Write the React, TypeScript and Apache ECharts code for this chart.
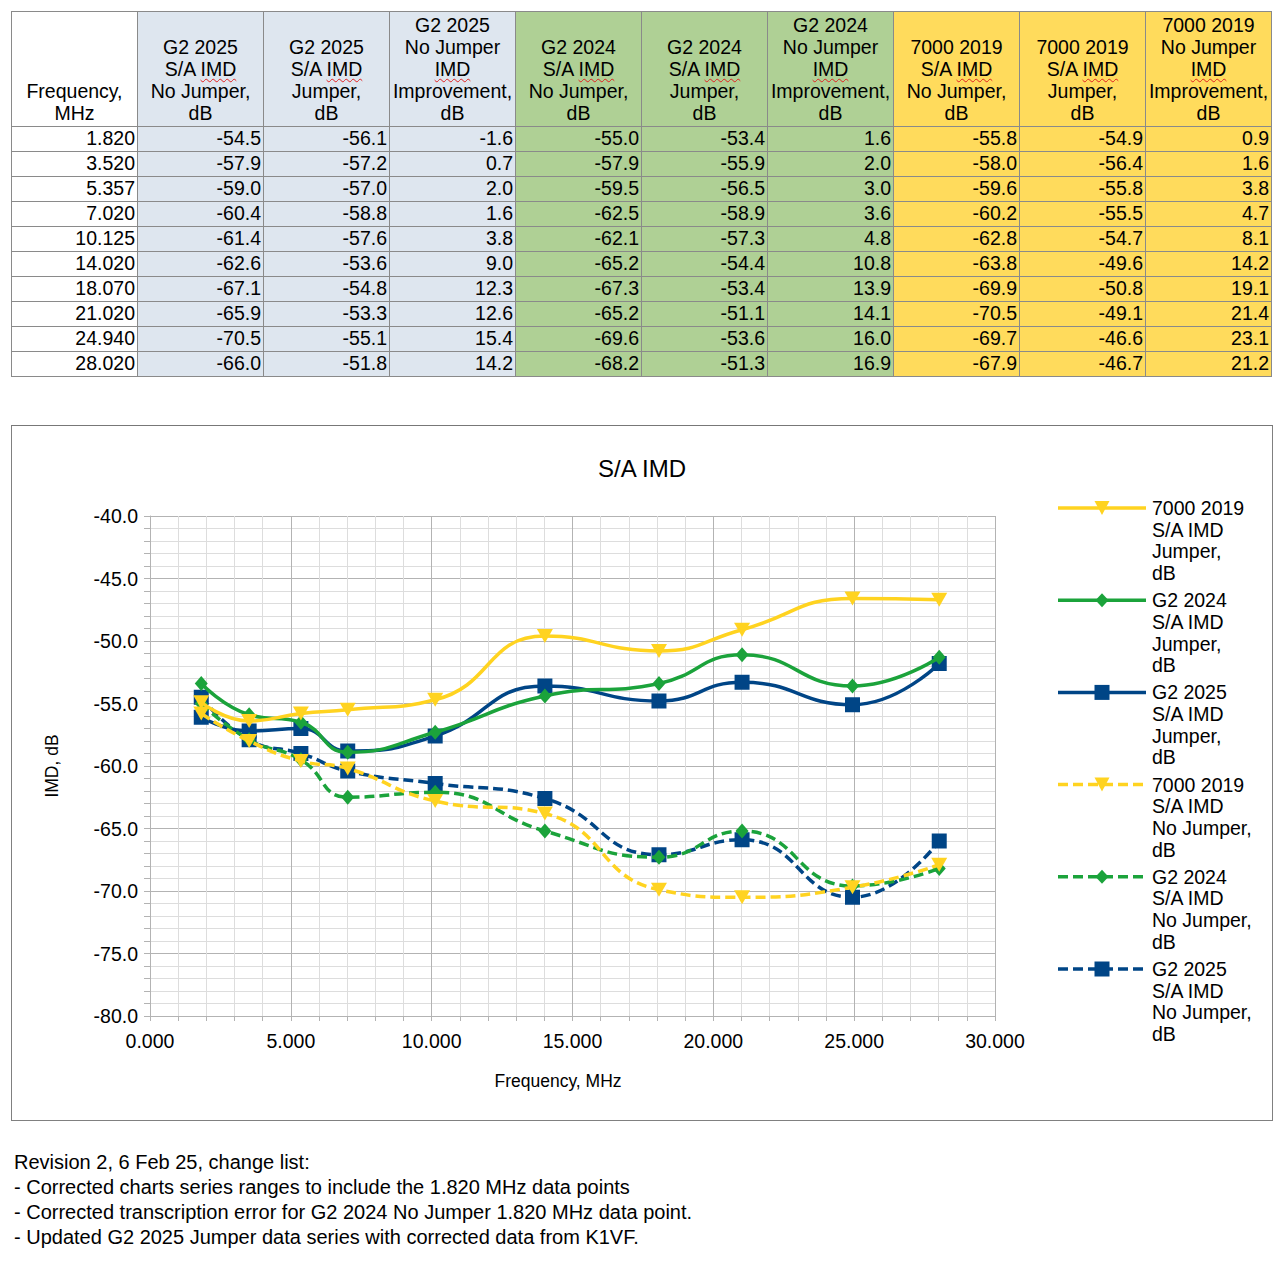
import React, { useEffect, useRef } from "react";
import * as echarts from "echarts";

// ---------- data ----------
const freq = [1.82, 3.52, 5.357, 7.02, 10.125, 14.02, 18.07, 21.02, 24.94, 28.02];

const g2025NoJumper = [-54.5, -57.9, -59.0, -60.4, -61.4, -62.6, -67.1, -65.9, -70.5, -66.0];
const g2025Jumper = [-56.1, -57.2, -57.0, -58.8, -57.6, -53.6, -54.8, -53.3, -55.1, -51.8];
const g2025Improvement = [-1.6, 0.7, 2.0, 1.6, 3.8, 9.0, 12.3, 12.6, 15.4, 14.2];

const g2024NoJumper = [-55.0, -57.9, -59.5, -62.5, -62.1, -65.2, -67.3, -65.2, -69.6, -68.2];
const g2024Jumper = [-53.4, -55.9, -56.5, -58.9, -57.3, -54.4, -53.4, -51.1, -53.6, -51.3];
const g2024Improvement = [1.6, 2.0, 3.0, 3.6, 4.8, 10.8, 13.9, 14.1, 16.0, 16.9];

const k7000NoJumper = [-55.8, -58.0, -59.6, -60.2, -62.8, -63.8, -69.9, -70.5, -69.7, -67.9];
const k7000Jumper = [-54.9, -56.4, -55.8, -55.5, -54.7, -49.6, -50.8, -49.1, -46.6, -46.7];
const k7000Improvement = [0.9, 1.6, 3.8, 4.7, 8.1, 14.2, 19.1, 21.4, 23.1, 21.2];

const changeNotes = [
  "Revision 2, 6 Feb 25, change list:",
  "- Corrected charts series ranges to include the 1.820 MHz data points",
  "- Corrected transcription error for G2 2024 No Jumper 1.820 MHz data point.",
  "- Updated G2 2025 Jumper data series with corrected data from K1VF.",
];

// ---------- styles ----------
const FONT = "'Liberation Sans', Arial, Helvetica, sans-serif";
const C_BLUE = "#004586";
const C_GREEN = "#1ba33b";
const C_YELLOW = "#ffd320";
const BG_BLUE = "#dee6ef";
const BG_GREEN = "#afd095";
const BG_YELLOW = "#ffdb5c";

type Col = { header: string[]; values: number[] | null; bg: string };

const columns: Col[] = [
  { header: ["Frequency,", "MHz"], values: null, bg: "#ffffff" },
  { header: ["G2 2025", "S/A |IMD|", "No Jumper,", "dB"], values: g2025NoJumper, bg: BG_BLUE },
  { header: ["G2 2025", "S/A |IMD|", "Jumper,", "dB"], values: g2025Jumper, bg: BG_BLUE },
  { header: ["G2 2025", "No Jumper", "|IMD|", "Improvement,", "dB"], values: g2025Improvement, bg: BG_BLUE },
  { header: ["G2 2024", "S/A |IMD|", "No Jumper,", "dB"], values: g2024NoJumper, bg: BG_GREEN },
  { header: ["G2 2024", "S/A |IMD|", "Jumper,", "dB"], values: g2024Jumper, bg: BG_GREEN },
  { header: ["G2 2024", "No Jumper", "|IMD|", "Improvement,", "dB"], values: g2024Improvement, bg: BG_GREEN },
  { header: ["7000 2019", "S/A |IMD|", "No Jumper,", "dB"], values: k7000NoJumper, bg: BG_YELLOW },
  { header: ["7000 2019", "S/A |IMD|", "Jumper,", "dB"], values: k7000Jumper, bg: BG_YELLOW },
  { header: ["7000 2019", "No Jumper", "|IMD|", "Improvement,", "dB"], values: k7000Improvement, bg: BG_YELLOW },
];

type SeriesDef = {
  name: string;
  legend: string;
  data: number[];
  color: string;
  dashed: boolean;
  symbol: string;
  rotate: number;
};

// drawing order (blue bottom, yellow top)
const seriesDefs: SeriesDef[] = [
  { name: "G2 2025 S/A IMD No Jumper, dB", legend: "G2 2025\nS/A IMD\nNo Jumper,\ndB", data: g2025NoJumper, color: C_BLUE, dashed: true, symbol: "rect", rotate: 0 },
  { name: "G2 2025 S/A IMD Jumper, dB", legend: "G2 2025\nS/A IMD\nJumper,\ndB", data: g2025Jumper, color: C_BLUE, dashed: false, symbol: "rect", rotate: 0 },
  { name: "G2 2024 S/A IMD No Jumper, dB", legend: "G2 2024\nS/A IMD\nNo Jumper,\ndB", data: g2024NoJumper, color: C_GREEN, dashed: true, symbol: "diamond", rotate: 0 },
  { name: "G2 2024 S/A IMD Jumper, dB", legend: "G2 2024\nS/A IMD\nJumper,\ndB", data: g2024Jumper, color: C_GREEN, dashed: false, symbol: "diamond", rotate: 0 },
  { name: "7000 2019 S/A IMD No Jumper, dB", legend: "7000 2019\nS/A IMD\nNo Jumper,\ndB", data: k7000NoJumper, color: C_YELLOW, dashed: true, symbol: "triangle", rotate: 180 },
  { name: "7000 2019 S/A IMD Jumper, dB", legend: "7000 2019\nS/A IMD\nJumper,\ndB", data: k7000Jumper, color: C_YELLOW, dashed: false, symbol: "triangle", rotate: 180 },
];

const legendOrder = [5, 3, 1, 4, 2, 0];

// ---------- layout ----------
const TABLE_X = 11;
const TABLE_Y = 11;
const COL_W = 126;
const HEAD_H = 115;
const ROW_H = 25;
const BORDER = "#8a8a8a";

const CHART_X = 11;
const CHART_Y = 425;
const CHART_W = 1262;
const CHART_H = 696;
const INNER_X = CHART_X + 1;
const INNER_Y = CHART_Y + 1;

function HeaderLine({ text }: { text: string }) {
  const parts = text.split("|");
  return (
    <div>
      {parts.map((p, i) =>
        i % 2 === 1 ? (
          <span
            key={i}
            style={{
              textDecorationLine: "underline",
              textDecorationStyle: "wavy",
              textDecorationColor: "#e02020",
              textUnderlineOffset: "2px",
              textDecorationThickness: "1px",
            }}
          >
            {p}
          </span>
        ) : (
          <span key={i}>{p}</span>
        )
      )}
    </div>
  );
}

function Table() {
  const cells: React.ReactNode[] = [];
  columns.forEach((col, c) => {
    const left = TABLE_X + c * COL_W;
    cells.push(
      <div
        key={`h${c}`}
        style={{
          position: "absolute",
          left,
          top: TABLE_Y,
          width: COL_W + 1,
          height: HEAD_H + 1,
          boxSizing: "border-box",
          border: `1px solid ${BORDER}`,
          background: col.bg,
          display: "flex",
          flexDirection: "column",
          justifyContent: "flex-end",
          alignItems: "center",
          textAlign: "center",
          fontSize: 19.5,
          lineHeight: "22px",
          paddingBottom: 2,
          whiteSpace: "nowrap",
        }}
      >
        {col.header.map((h, i) => (
          <HeaderLine key={i} text={h} />
        ))}
      </div>
    );
    freq.forEach((f, r) => {
      const txt = col.values ? col.values[r].toFixed(1) : f.toFixed(3);
      cells.push(
        <div
          key={`c${c}_${r}`}
          style={{
            position: "absolute",
            left,
            top: TABLE_Y + HEAD_H + r * ROW_H,
            width: COL_W + 1,
            height: ROW_H + 1,
            boxSizing: "border-box",
            border: `1px solid ${BORDER}`,
            background: col.bg,
            textAlign: "right",
            paddingRight: 2,
            fontSize: 19.5,
            lineHeight: "22px",
            whiteSpace: "nowrap",
          }}
        >
          {txt}
        </div>
      );
    });
  });
  return <>{cells}</>;
}

function Chart() {
  const ref = useRef<HTMLDivElement>(null);
  useEffect(() => {
    if (!ref.current) return;
    const chart = echarts.init(ref.current, null, { renderer: "svg" });

    const gridLeft = 150 - INNER_X;
    const gridTop = 516 - INNER_Y;
    const gridW = 845;
    const gridH = 500;

    const legendGraphics: any[] = [];
    const lx0 = 1058 - INNER_X;
    const lx1 = 1146 - INNER_X;
    const lsym = 1102 - INNER_X;
    const ltext = 1152 - INNER_X;
    legendOrder.forEach((si, k) => {
      const s = seriesDefs[si];
      const cy = 508 - INNER_Y + k * 92.2;
      legendGraphics.push({
        type: "line",
        shape: { x1: lx0, y1: cy, x2: lx1, y2: cy },
        style: { stroke: s.color, lineWidth: 3.5, lineDash: s.dashed ? [10, 5] : null },
        silent: true,
      });
      if (s.symbol === "rect") {
        legendGraphics.push({
          type: "rect",
          shape: { x: lsym - 7.5, y: cy - 7.5, width: 15, height: 15 },
          style: { fill: s.color },
          silent: true,
        });
      } else if (s.symbol === "diamond") {
        legendGraphics.push({
          type: "polygon",
          shape: { points: [[lsym, cy - 7], [lsym + 6.5, cy], [lsym, cy + 7], [lsym - 6.5, cy]] },
          style: { fill: s.color },
          silent: true,
        });
      } else {
        legendGraphics.push({
          type: "polygon",
          shape: { points: [[lsym - 7.5, cy - 7], [lsym + 7.5, cy - 7], [lsym, cy + 7]] },
          style: { fill: s.color },
          silent: true,
        });
      }
      legendGraphics.push({
        type: "text",
        x: ltext,
        y: cy - 10.85,
        style: {
          text: s.legend,
          fontSize: 19.5,
          fontFamily: FONT,
          lineHeight: 21.7,
          fill: "#000",
          textAlign: "left",
          textVerticalAlign: "top",
          verticalAlign: "top",
        },
        silent: true,
      });
    });

    chart.setOption({
      animation: false,
      backgroundColor: "#ffffff",
      textStyle: { fontFamily: FONT },
      title: {
        text: "S/A IMD",
        left: "center",
        top: 468 - INNER_Y - 17,
        textStyle: { fontSize: 24, fontWeight: "normal", color: "#000", fontFamily: FONT },
      },
      grid: { left: gridLeft, top: gridTop, width: gridW, height: gridH, containLabel: false },
      xAxis: {
        type: "value",
        min: 0,
        max: 30,
        interval: 5,
        axisLine: { show: true, onZero: false, lineStyle: { color: "#b3b3b3", width: 1 } },
        axisTick: { show: true, length: 5, lineStyle: { color: "#b3b3b3" } },
        minorTick: { show: true, splitNumber: 5, length: 5, lineStyle: { color: "#b3b3b3" } },
        splitLine: { show: true, lineStyle: { color: "#b3b3b3", width: 1 } },
        minorSplitLine: { show: true, lineStyle: { color: "#dddddd", width: 1 } },
        axisLabel: {
          formatter: (v: number) => v.toFixed(3),
          fontSize: 19.5,
          color: "#000",
          margin: 15,
          fontFamily: FONT,
        },
      },
      yAxis: {
        type: "value",
        min: -80,
        max: -40,
        interval: 5,
        name: "IMD, dB",
        nameLocation: "middle",
        nameGap: 89,
        nameTextStyle: { fontSize: 17.5, color: "#000", fontFamily: FONT },
        axisLine: { show: true, lineStyle: { color: "#b3b3b3", width: 1 } },
        axisTick: { show: true, length: 6, lineStyle: { color: "#b3b3b3" } },
        minorTick: { show: true, splitNumber: 5, length: 6, lineStyle: { color: "#b3b3b3" } },
        splitLine: { show: true, lineStyle: { color: "#b3b3b3", width: 1 } },
        minorSplitLine: { show: true, lineStyle: { color: "#dddddd", width: 1 } },
        axisLabel: {
          formatter: (v: number) => v.toFixed(1),
          fontSize: 19.5,
          color: "#000",
          margin: 12,
          fontFamily: FONT,
        },
      },
      graphic: [
        {
          type: "text",
          x: 558 - INNER_X,
          y: 1081 - INNER_Y,
          style: {
            text: "Frequency, MHz",
            fontSize: 17.5,
            fontFamily: FONT,
            fill: "#000",
            textAlign: "center",
            textVerticalAlign: "middle",
            verticalAlign: "middle",
          },
          silent: true,
        },
        ...legendGraphics,
      ],
      series: seriesDefs.map((s, i) => ({
        type: "line",
        name: s.name,
        data: freq.map((f, j) => [f, s.data[j]]),
        smooth: 0.5,
        symbol: s.symbol,
        symbolSize: s.symbol === "triangle" ? [16, 14] : s.symbol === "diamond" ? [13, 15] : 15,
        symbolRotate: s.rotate,
        showSymbol: true,
        lineStyle: { color: s.color, width: 3.5, type: s.dashed ? [10, 5] : "solid", cap: "butt" },
        itemStyle: { color: s.color, borderWidth: 0 },
        z: 2 + i,
        emphasis: { disabled: true },
      })),
    });
    return () => chart.dispose();
  }, []);

  return (
    <div
      style={{
        position: "absolute",
        left: CHART_X,
        top: CHART_Y,
        width: CHART_W,
        height: CHART_H,
        boxSizing: "border-box",
        border: "1px solid #808080",
        borderTop: "2px solid #777777",
        background: "#fff",
      }}
    >
      <div ref={ref} style={{ position: "absolute", left: 0, top: -1, width: CHART_W - 2, height: CHART_H - 2 }} />
    </div>
  );
}

export default function App() {
  return (
    <div
      style={{
        position: "absolute",
        left: 0,
        top: 0,
        width: 1286,
        height: 1266,
        background: "#ffffff",
        fontFamily: FONT,
        color: "#000",
        overflow: "hidden",
      }}
    >
      <Table />
      <Chart />
      <div
        style={{
          position: "absolute",
          left: 14,
          top: 1150,
          fontSize: 20,
          lineHeight: "25px",
          whiteSpace: "nowrap",
        }}
      >
        {changeNotes.map((t, i) => (
          <div key={i}>{t}</div>
        ))}
      </div>
    </div>
  );
}
